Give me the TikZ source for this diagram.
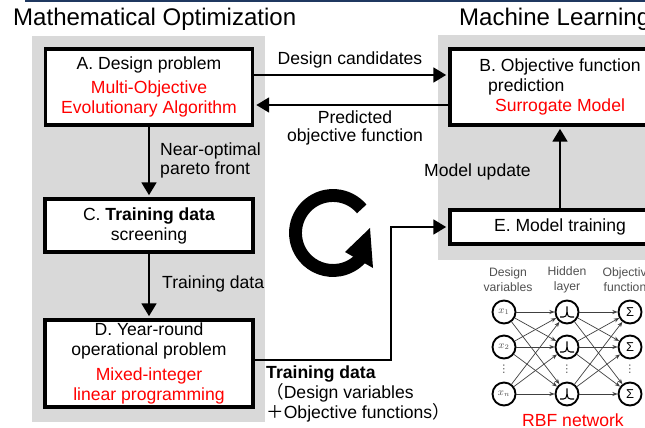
\documentclass[tikz,border=0pt]{standalone}
\usepackage{fontspec}
\setmainfont{Liberation Sans}
\newfontfamily\cjk{Noto Sans CJK JP}
\newfontfamily\symfont{DejaVu Sans}
\usetikzlibrary{arrows.meta,calc}
\definecolor{panelgray}{RGB}{217,217,217}
\definecolor{navy}{RGB}{31,56,96}
\definecolor{netgray}{RGB}{80,80,80}
\begin{document}
\begin{tikzpicture}[x=0.03cm, y=0.03cm,
        box/.style={rectangle, draw=black, line width=3.4pt, fill=white, align=center, inner sep=0pt, font=\fontsize{15}{17}\selectfont},
        lbl/.style={inner sep=0pt, font=\fontsize{15}{15.5}\selectfont},
        arr/.style={line width=2.3pt, shorten >=1.5pt, -{Triangle[length=11pt, width=12.5pt]}},
        neuron/.style={circle, draw=black, line width=1.6pt, fill=white, minimum size=0.69cm, inner sep=0pt, text=netgray},
        hidden/.style={neuron, path picture={\draw[line width=0.9pt] ($(path picture bounding box.center)+(-7,-5)$) -- ++(3.5,0) to[out=0,in=-95] ++(3.5,10.5) to[out=-85,in=180] ++(3.5,-10.5) -- ++(3.5,0);}},
        link/.style={line width=0.6pt, draw=black!75, -{Stealth[length=4.5pt, width=3.5pt]}},
        netlbl/.style={inner sep=0pt, align=center, text=netgray, font=\fontsize{10.4}{12.8}\selectfont},
    ]
        \useasboundingbox (0,0) rectangle (645,-428);
        \clip (0,0) rectangle (645,-428);

        % panels
        \fill[navy] (25,0) rectangle (645,-2.5);
        \fill[panelgray] (32,-36) rectangle (265,-422);
        \fill[panelgray] (438,-35) rectangle (700,-260);

        %Titles
        \node[lbl, anchor=west, font=\fontsize{20.5}{22}\selectfont] (optim_t) at (13,-19) {Mathematical Optimization};
        \node[lbl, anchor=west, font=\fontsize{20.5}{22}\selectfont] (ml_t) at (459,-19) {Machine Learning};

        %Nodes
        \node[box, minimum width=6.21cm, minimum height=2.28cm] (design) at (149,-87) {A. Design problem\\[3.5pt]\color{red}Multi-Objective\\\color{red}Evolutionary Algorithm};
        \node[box, minimum width=6.6cm, minimum height=2.28cm] (predict) at (560,-87) {B. Objective function\\\makebox[9.17em][l]{\hspace{0.5em}prediction}\\\color{red}Surrogate Model};
        \node[box, minimum width=6.24cm, minimum height=1.59cm] (screen) at (149,-225.5) {C. \textbf{Training data}\\screening};
        \node[box, minimum width=6.24cm, minimum height=2.61cm] (yearround) at (149,-363.5) {D. Year-round\\operational problem\\[4pt]\color{red}Mixed-integer\\\color{red}linear programming};
        \node[box, minimum width=6.6cm, minimum height=1.02cm] (train) at (560,-227) {E. Model training};

        \node[lbl] (cand_t) at (350,-60) {Design candidates};
        \node[lbl, align=center] (pred_t) at (355,-128) {Predicted\\objective function};
        \node[lbl, align=left, anchor=west] (pareto_t) at (160,-160.5) {Near-optimal\\pareto front};
        \node[lbl, anchor=west] (data_t) at (162,-284) {Training data};
        \node[lbl, anchor=west] (update_t) at (424,-172) {Model update};
        \node[lbl, align=left, anchor=west] (set_t) at (266,-394) {\textbf{Training data}\\{\cjk （}Design variables\\{\cjk ＋}Objective functions{\cjk ）}};

        %Lines
        \draw[arr] ($(design.east)+(0,12)$) -- ($(predict.west)+(0,12)$);
        \draw[arr] ($(predict.west)+(0,-18)$) -- ($(design.east)+(0,-18)$);
        \draw[arr] (design.south) -- (screen.north);
        \draw[arr] (screen.south) -- (yearround.north);
        \draw[arr] ($(yearround.east)+(0,3.5)$) -- ++(136,0) |- (train.west);
        \draw[arr] (train.north) -- (predict.south);

        % cycle
        \draw[line width=11pt] (333,-233) ++(40:37.5) arc[start angle=40, end angle=318, radius=37.5];
        \fill (370,-228) -- (345,-252) -- (373,-268) -- cycle;

        % RBF network
        \node[netlbl] (var_t) at (508,-280) {Design\\variables};
        \node[netlbl] (hid_t) at (567,-280) {Hidden\\layer};
        \node[netlbl] (obj_t) at (628,-280) {Objective\\functions};
        \foreach \y/\s [count=\i] in {312/1,347/2,394/n}{
            \node[neuron] (in\i) at (504,-\y) {\fontsize{9}{9}\selectfont$x_{\s}$};
            \node[hidden] (hid\i) at (567,-\y) {};
            \node[neuron, text=black] (out\i) at (630,-\y) {\fontsize{11}{11}\selectfont Σ};
        }
        \foreach \x [count=\i] in {504,567,630}{
            \node[netlbl, font=\symfont\fontsize{9}{9}\selectfont] (dots\i) at (\x,-369) {⋮};
        }
        \foreach \i in {1,2,3}{
            \foreach \j in {1,2,3}{
                \draw[link] (in\i) -- (hid\j);
                \draw[link] (hid\i) -- (out\j);
            }
        }
        \node[lbl, text=red] (rbf_t) at (573,-420) {RBF network};
    \end{tikzpicture}
\end{document}
